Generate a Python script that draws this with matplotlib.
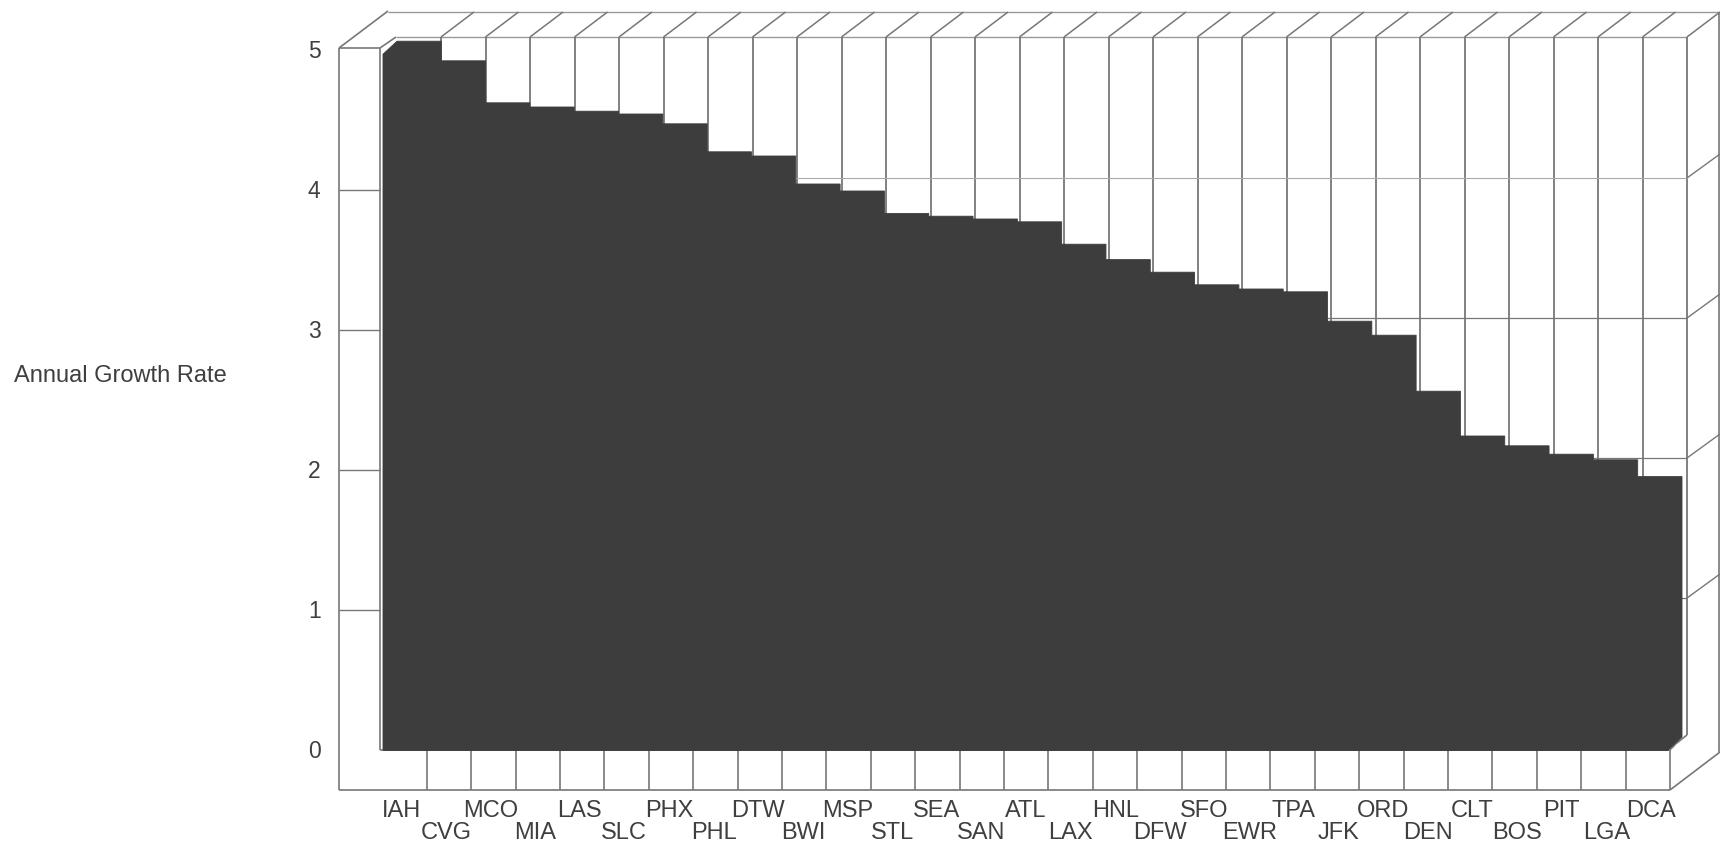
import matplotlib
matplotlib.use("Agg")
import matplotlib.pyplot as plt
from matplotlib.transforms import ScaledTranslation
import numpy as np

plt.rcParams['font.family'] = ['Liberation Sans', 'DejaVu Sans']

airports = ['IAH', 'CVG', 'MCO', 'MIA', 'LAS', 'SLC', 'PHX', 'PHL', 'DTW', 'BWI',
            'MSP', 'STL', 'SEA', 'SAN', 'ATL', 'LAX', 'HNL', 'DFW', 'SFO', 'EWR',
            'TPA', 'JFK', 'ORD', 'DEN', 'CLT', 'BOS', 'PIT', 'LGA', 'DCA']
growth = [4.97, 4.83, 4.53, 4.50, 4.47, 4.45, 4.38, 4.18, 4.15, 3.95,
          3.90, 3.74, 3.72, 3.70, 3.68, 3.52, 3.41, 3.32, 3.23, 3.20,
          3.18, 2.97, 2.87, 2.47, 2.15, 2.08, 2.02, 1.98, 1.86]
y_ticks = [0, 1, 2, 3, 4, 5]

W, H = 1720, 846
BAR_COLOR = '#3d3d3d'
LINE_COLOR = '#777777'
TEXT_COLOR = '#3f3f3f'

fig = plt.figure(figsize=(W / 100, H / 100), dpi=100, facecolor='white')

# the fake 3d box, in pixels
frame = fig.add_axes([0, 0, 1, 1])
frame.set_xlim(0, W)
frame.set_ylim(H, 0)
frame.axis('off')


def seg(x0, y0, x1, y1, lw=1.2, color=LINE_COLOR):
    frame.plot([x0, x1], [y0, y1], color=color, lw=lw, solid_capstyle='butt')


# left wall
seg(339, 48, 339, 790)
seg(380, 48, 380, 750)
seg(339, 48, 380, 48)
seg(339, 48, 388, 11)
seg(380, 48, 396, 37)
for y in [190, 330, 470, 610]:
    seg(339, y, 380, y, 1.0)

# top and back wall
seg(388, 12, 1720, 12, 1.0, '#999999')
seg(396, 37, 1687, 37, 1.0, '#999999')
for i in range(29):
    xb = 1687 - 44.5 * i
    seg(xb, 37, xb, 735, 1.3)
    seg(xb, 37, xb + 33, 12, 1.1)
seg(396, 178, 1687, 178, 0.8, '#aaaaaa')
for y in [318, 458, 598]:
    seg(396, y, 1687, y, 0.9)
for y in [178, 318, 458, 598]:
    seg(1687, y, 1720, y - 24, 1.0)

# right wall
seg(1719, 12, 1719, 752)
seg(1670, 790, 1720, 752)
seg(1668, 750, 1687, 735)

# floor
seg(339, 790, 1670, 790)
seg(380, 750, 1668, 750)
for i in range(30):
    xf = 1670 - 44.4 * i
    if xf > 400:
        seg(xf, 750, xf, 790)
        seg(xf, 750, xf + 5, 745, 1.0)

# bars go on a transparent axes on top, front plane 383-1668 x, 750-50 y
ax = fig.add_axes([383 / W, (H - 750) / H, (1668 - 383) / W, 700 / H])
ax.patch.set_alpha(0)
ax.set_xlim(-0.5, 28.5)
ax.set_ylim(0, 5)
for s in ax.spines.values():
    s.set_visible(False)

x = np.arange(len(airports))
ax.bar(x, growth, width=1.0, color=BAR_COLOR, edgecolor=BAR_COLOR, linewidth=0.6,
       clip_on=False, zorder=2)

# depth of the bars, whole outline so no seam shows at the front top edge
dx = 14 / 44.31
dy = 13 / 140
for xi, v in zip(x, growth):
    left = xi - 0.5
    right = xi + 0.5
    ax.fill([left, left, left + dx, right + dx, right + dx, right],
            [0, v, v + dy, v + dy, dy, 0],
            facecolor=BAR_COLOR, edgecolor=BAR_COLOR, linewidth=0.6, clip_on=False, zorder=2)

# labels drift a few px against the bars in the original
tick_x = x + (-4 + 9 * x / 28) / 44.31
ax.set_xticks(tick_x)
ax.set_xticklabels(airports, fontsize=17, color=TEXT_COLOR)
ax.set_yticks(y_ticks)
ax.set_yticklabels([str(t) for t in y_ticks], fontsize=16.5, color=TEXT_COLOR)
ax.tick_params(axis='x', length=0, pad=36)
ax.tick_params(axis='y', length=0, pad=45)
# every second airport sits one row lower
for tick in ax.xaxis.get_major_ticks()[1::2]:
    tick.set_pad(52)
up = ScaledTranslation(0, 1 / 100, fig.dpi_scale_trans)
for lab in ax.get_yticklabels():
    lab.set_transform(lab.get_transform() + up)

fig.text(14 / W, 1 - 376 / H, 'Annual Growth Rate', fontsize=17, color=TEXT_COLOR,
         ha='left', va='center')

fig.savefig('out.png', dpi=100)
